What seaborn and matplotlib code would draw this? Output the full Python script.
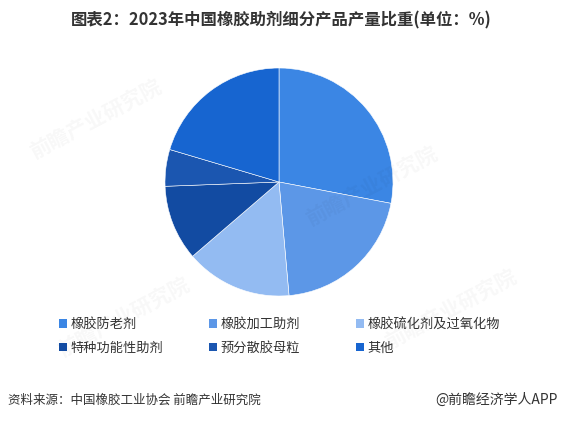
import matplotlib
matplotlib.use("Agg")
import matplotlib.pyplot as plt
from matplotlib.patches import Patch
import seaborn as sns

categories = ["橡胶防老剂", "橡胶加工助剂", "橡胶硫化剂及过氧化物",
              "特种功能性助剂", "预分散胶母粒", "其他"]
shares = [28.0, 20.6, 15.1, 10.7, 5.2, 20.4]
colors = ["#3b86e4", "#5c97e7", "#93bbf2", "#124ba2", "#1b56b0", "#1765d0"]

sns.set_theme(style="white")
plt.rcParams["font.family"] = ["Noto Sans CJK SC", "DejaVu Sans"]

fig = plt.figure(figsize=(5.63, 4.23), dpi=100)
fig.patch.set_facecolor("white")

# faint watermarks
for (wx, wy) in [(0.17, 0.72), (0.66, 0.56), (0.22, 0.25), (0.80, 0.27)]:
    fig.text(wx, wy, "前瞻产业研究院", fontsize=15, color="#000000", alpha=0.03,
             rotation=28, ha="center", va="center", fontweight="bold")

ax = fig.add_axes([165 / 563, 1 - 296 / 423, 228 / 563, 228 / 423])
ax.pie(shares, colors=colors, startangle=90, counterclock=False,
       wedgeprops=dict(edgecolor="white", linewidth=0.4))
ax.set_xlim(-1, 1)
ax.set_ylim(-1, 1)
ax.set_aspect("equal")

fig.text(0.5, 1 - 20 / 423, "图表2：2023年中国橡胶助剂细分产品产量比重(单位：%)",
         ha="center", va="center", fontsize=11.8, fontweight="bold", color="#333333")

# legend: one column per legend, two rows each
handles = [Patch(facecolor=c, edgecolor="none") for c in colors]
col_x = [59, 209, 356]
for j, x in enumerate(col_x):
    leg = fig.legend([handles[j], handles[j + 3]], [categories[j], categories[j + 3]],
                     loc="upper left", bbox_to_anchor=(x / 563, 1 - 318 / 423),
                     frameon=False, fontsize=9.5, handlelength=0.6, handleheight=0.6,
                     handletextpad=0.3, labelspacing=0.8,
                     labelcolor="#333333", borderaxespad=0, borderpad=0)

fig.text(8 / 563, 1 - 400 / 423, "资料来源：中国橡胶工业协会 前瞻产业研究院",
         ha="left", va="center", fontsize=9, color="#333333")
fig.text(558 / 563, 1 - 400 / 423, "@前瞻经济学人APP",
         ha="right", va="center", fontsize=10, color="#333333")

fig.savefig("out.png", dpi=100, facecolor="white")
